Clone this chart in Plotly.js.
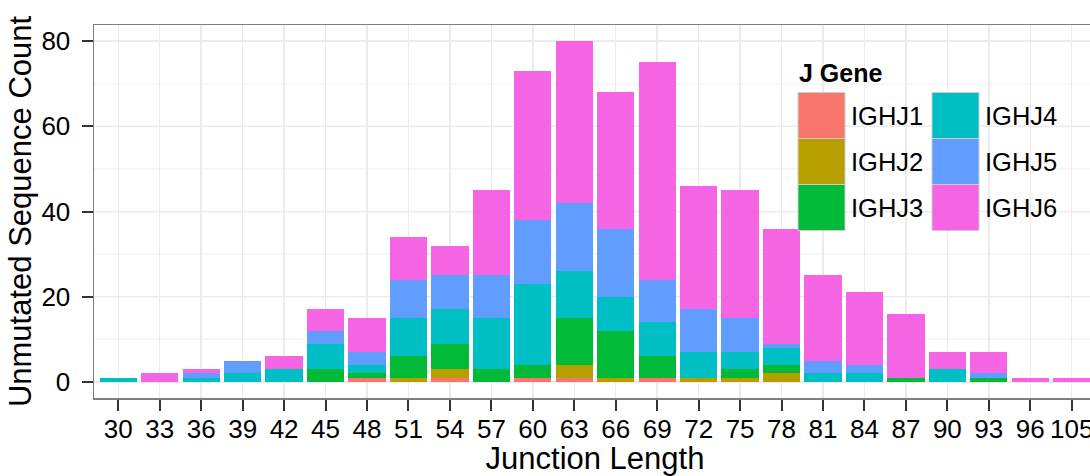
<!DOCTYPE html>
<html>
<head>
<meta charset="utf-8">
<script src="https://cdn.plot.ly/plotly-3.0.1.min.js"></script>
<style>
  html, body { margin: 0; padding: 0; overflow: hidden; background: #fff; }
  #chart { width: 1102px; height: 476px; }
</style>
</head>
<body>
<div id="chart"></div>
<script>
// ---- data ----
const junctionLengths = ["30","33","36","39","42","45","48","51","54","57","60","63","66","69","72","75","78","81","84","87","90","93","96","105"];
const geneNames = ["IGHJ1","IGHJ2","IGHJ3","IGHJ4","IGHJ5","IGHJ6"];
const IGHJ1 = [0,0,0,0,0,0,1,0,1,0,1,1,0,1,0,0,0,0,0,0,0,0,0,0];
const IGHJ2 = [0,0,0,0,0,0,0,1,2,0,0,3,1,0,1,1,2,0,0,0,0,0,0,0];
const IGHJ3 = [0,0,0,0,0,3,1,5,6,3,3,11,11,5,0,2,2,0,0,1,0,1,0,0];
const IGHJ4 = [1,0,1,2,3,6,2,9,8,12,19,11,8,8,6,4,4,2,2,0,3,0,0,0];
const IGHJ5 = [0,0,1,3,0,3,3,9,8,10,15,16,16,10,10,8,1,3,2,0,0,1,0,0];
const IGHJ6 = [0,2,1,0,3,5,8,10,7,20,35,38,32,51,29,30,27,20,17,15,4,5,1,1];
const yTicks = [0,20,40,60,80];
const geneColors = ["#F8766D","#B79F00","#00BA38","#00BFC4","#619CFF","#F564E3"];
const seriesValues = [IGHJ1, IGHJ2, IGHJ3, IGHJ4, IGHJ5, IGHJ6];

// ---- layout geometry (pixels) ----
const W = 1102, H = 476;
const M = {l: 94, r: 6, t: 25, b: 78};
const PW = W - M.l - M.r, PH = H - M.t - M.b;
const px = x => (x - M.l) / PW;
const py = y => (H - M.b - y) / PH;
const FONT = '"Liberation Sans", Arial, Helvetica, sans-serif';

const traces = geneNames.map((name, i) => ({
  type: 'bar',
  name: name,
  x: junctionLengths,
  y: seriesValues[i],
  marker: {color: geneColors[i], line: {width: 0}},
  showlegend: false,
  hoverinfo: 'x+y+name'
}));

// custom ggplot-style legend
const shapes = [];
const annotations = [];
annotations.push({
  xref: 'paper', yref: 'paper', x: px(797), y: py(73),
  xanchor: 'left', yanchor: 'middle', showarrow: false,
  text: '<b>J Gene</b>', font: {family: FONT, size: 25, color: '#000'}
});
const colX = [798, 932];
const rowY = [92.5, 138.5, 184.5];
const boxW = 47, boxH = 46;
geneNames.forEach((name, i) => {
  const c = Math.floor(i / 3), r = i % 3;
  const x0 = colX[c], y0 = rowY[r];
  shapes.push({
    type: 'rect', xref: 'paper', yref: 'paper',
    x0: px(x0), x1: px(x0 + boxW), y0: py(y0 + boxH), y1: py(y0),
    fillcolor: geneColors[i], line: {color: '#cccccc', width: 1}
  });
  annotations.push({
    xref: 'paper', yref: 'paper', x: px(x0 + boxW + 4), y: py(y0 + boxH / 2),
    xanchor: 'left', yanchor: 'middle', showarrow: false,
    text: name, font: {family: FONT, size: 25.5, color: '#000'}
  });
});

const layout = {
  width: W, height: H,
  margin: M,
  paper_bgcolor: '#ffffff',
  plot_bgcolor: '#ffffff',
  barmode: 'stack',
  bargap: 0.1,
  font: {family: FONT, color: '#000'},
  showlegend: false,
  xaxis: {
    type: 'category',
    categoryorder: 'array',
    categoryarray: junctionLengths,
    range: [-0.586, junctionLengths.length - 1 + 0.586],
    showgrid: true, gridcolor: '#ebebeb', gridwidth: 1.5,
    showline: true, linecolor: '#7f7f7f', linewidth: 1.5, mirror: true,
    ticks: 'outside', ticklen: 11, tickwidth: 2, tickcolor: '#333333',
    ticklabelstandoff: -4,
    tickfont: {family: FONT, size: 26, color: '#000'},
    zeroline: false,
    title: {text: 'Junction Length', font: {family: FONT, size: 31, color: '#000'}, standoff: 2}
  },
  yaxis: {
    range: [-3.8, 83.8],
    tickmode: 'array', tickvals: yTicks, ticktext: yTicks.map(String),
    showgrid: true, gridcolor: '#ebebeb', gridwidth: 1.5,
    minor: {dtick: 10, tick0: 0, showgrid: true, gridcolor: '#f7f7f7', gridwidth: 2, ticks: ''},
    showline: true, linecolor: '#7f7f7f', linewidth: 1.5, mirror: true,
    ticks: 'outside', ticklen: 11, tickwidth: 2, tickcolor: '#333333',
    ticklabelstandoff: 6,
    tickfont: {family: FONT, size: 26, color: '#000'},
    zeroline: false,
    title: {text: 'Unmutated Sequence Count', font: {family: FONT, size: 31, color: '#000'}, standoff: 0}
  },
  shapes: shapes,
  annotations: annotations
};

Plotly.newPlot('chart', traces, layout, {displayModeBar: false, staticPlot: true});
</script>
</body>
</html>
